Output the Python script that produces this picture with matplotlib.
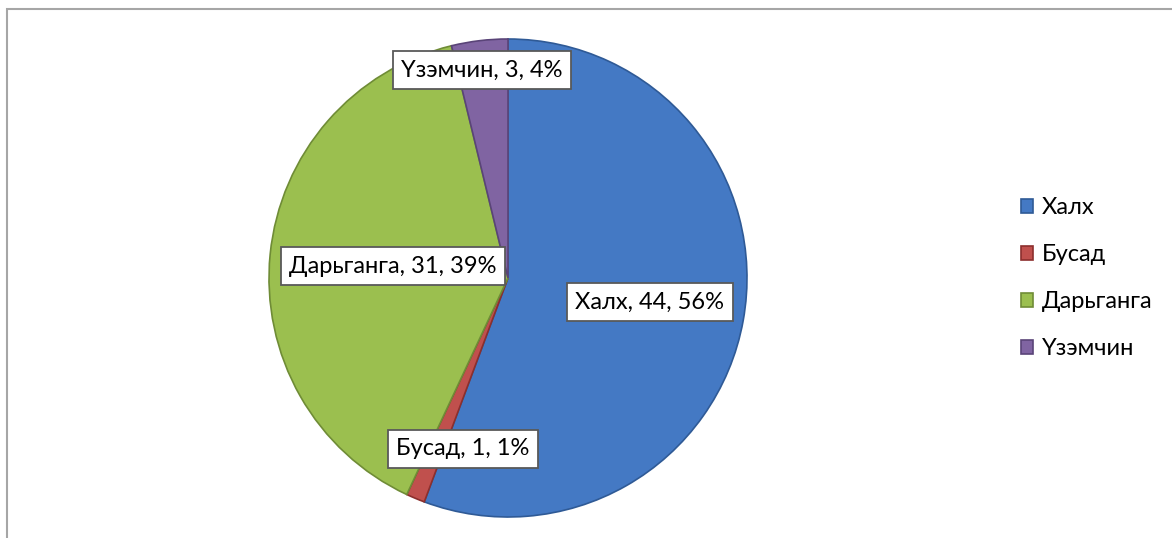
import matplotlib.pyplot as plt
from matplotlib.patches import Rectangle

# data
names = ["Халх", "Бусад", "Дарьганга", "Үзэмчин"]
counts = [44, 1, 31, 3]
colors = ["#4479c4", "#c0504d", "#9bbf4f", "#8064a2"]
edges = ["#2f5a96", "#8c2f2d", "#6f8c36", "#5a4478"]

plt.rcParams['font.family'] = ['Lato', 'DejaVu Sans']

W, H = 1172, 538
fig = plt.figure(figsize=(W / 100, H / 100), dpi=100)

# outer chart frame (runs off the right/bottom edge)
fig.patches.append(Rectangle((7 / W, -0.2), 1.5, 1.2 - 9 / H, transform=fig.transFigure,
                             fill=False, edgecolor="#a6a6a6", linewidth=1.5))

cx, cy, r = 508, 538 - 278, 239
ax = fig.add_axes([(cx - r) / W, (cy - r) / H, 2 * r / W, 2 * r / H])
wedges, _ = ax.pie(counts, colors=colors, startangle=90, counterclock=False, radius=1,
                   wedgeprops=dict(linewidth=1.2))
for w, ec in zip(wedges, edges):
    w.set_edgecolor(ec)
ax.set_xlim(-1, 1)
ax.set_ylim(-1, 1)
ax.set_aspect('equal')

total = sum(counts)
# label positions (data coords, Excel best-fit placement)
lab_pos = [(0.594, -0.10), (-0.188, -0.715), (-0.481, 0.05), (-0.109, 0.87)]
for n, c, (x, y) in zip(names, counts, lab_pos):
    ax.text(x, y, f"{n}, {c}, {round(100 * c / total)}%", ha='center', va='center',
            fontsize=17, color='black', zorder=5,
            bbox=dict(boxstyle='square,pad=0.36', facecolor='white', edgecolor='#595959', linewidth=1.3))

leg = fig.legend(wedges, names, loc='upper left', bbox_to_anchor=(1012 / W, 1 - 188 / H),
                 frameon=False, fontsize=17, handlelength=0.5, handleheight=0.5,
                 handletextpad=0.35, labelspacing=1.1, borderaxespad=0)

fig.savefig("out.png", dpi=100)
